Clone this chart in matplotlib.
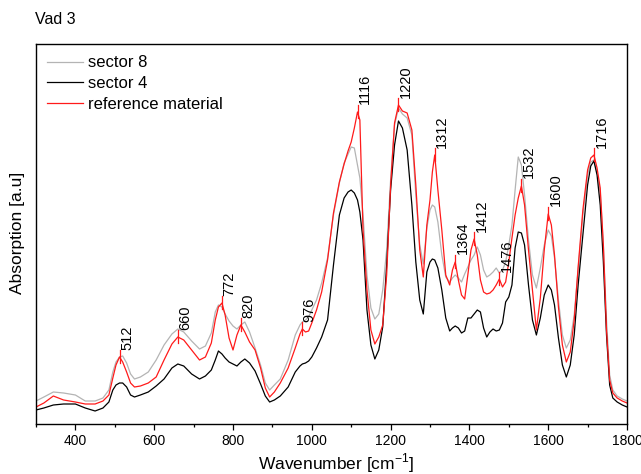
import matplotlib
matplotlib.use("Agg")
import matplotlib.pyplot as plt
from matplotlib.ticker import MultipleLocator, NullLocator

plt.rcParams["font.family"] = ["Liberation Sans", "DejaVu Sans"]

# FTIR spectra, Vad 3 (absorption in arbitrary units)
wavenumber = [
    300, 320, 344, 370, 400, 425, 450, 470, 485, 495, 503, 512, 520, 530, 540, 550,
    565, 585, 605, 625, 645, 660, 675, 695, 715, 730, 745, 755, 763, 772, 780, 790,
    800, 810, 820, 830, 842, 856, 870, 882, 893, 905, 920, 940, 958, 970, 976, 984,
    992, 1000, 1012, 1025, 1040, 1055, 1070, 1082, 1092, 1100, 1108, 1116, 1122, 1130,
    1140, 1150, 1160, 1170, 1180, 1190, 1200, 1210, 1220, 1230, 1242, 1254, 1264, 1274,
    1283, 1292, 1300, 1306, 1312, 1320, 1330, 1340, 1350, 1357, 1364, 1372, 1380, 1388,
    1396, 1404, 1412, 1420, 1428, 1436, 1444, 1452, 1460, 1468, 1476, 1484, 1492, 1500,
    1508, 1516, 1524, 1532, 1540, 1550, 1560, 1570, 1580, 1590, 1600, 1608, 1616, 1626,
    1636, 1646, 1656, 1666, 1676, 1688, 1700, 1708, 1716, 1724, 1732, 1740, 1748, 1756,
    1764, 1775, 1788, 1800,
]

sector_8 = [
    23, 27, 32, 31, 29, 23, 23, 26, 34, 52, 62, 67, 68, 61, 50, 45,
    47, 52, 64, 79, 90, 95, 92, 83, 75, 78, 91, 112, 119, 117, 110, 103,
    98, 95, 99, 102, 92, 76, 59, 41, 34, 39, 45, 64, 89, 99, 102, 104,
    107, 114, 124, 141, 166, 209, 241, 261, 270, 277, 276, 259, 246, 209,
    149, 116, 105, 110, 134, 174, 244, 299, 316, 310, 306, 289, 229, 179,
    160, 196, 214, 219, 217, 202, 169, 147, 142, 146, 149, 146, 142, 150,
    157, 164, 169, 177, 169, 154, 147, 149, 152, 156, 151, 154, 162, 179,
    199, 234, 267, 259, 229, 184, 149, 136, 156, 179, 194, 188, 166, 124,
    89, 76, 84, 109, 154, 209, 249, 262, 264, 252, 232, 179, 104, 49,
    34, 28, 25, 23,
]

sector_4 = [
    14, 16, 19, 20, 20, 16, 13, 16, 22, 34, 39, 41, 41, 37, 29, 27,
    29, 32, 38, 45, 56, 60, 58, 50, 45, 48, 54, 64, 73, 70, 66, 62,
    60, 58, 62, 65, 61, 53, 40, 28, 22, 24, 28, 37, 52, 58, 60, 61,
    63, 67, 76, 87, 104, 159, 209, 226, 232, 234, 231, 224, 212, 184,
    114, 79, 65, 74, 97, 159, 234, 279, 303, 296, 274, 219, 162, 124,
    110, 152, 162, 165, 164, 156, 134, 106, 93, 96, 98, 96, 91, 93,
    106, 106, 110, 114, 112, 96, 87, 92, 95, 93, 94, 101, 122, 127,
    139, 176, 192, 191, 179, 139, 104, 89, 106, 129, 139, 134, 119, 86,
    59, 47, 59, 89, 139, 189, 239, 258, 263, 249, 219, 162, 89, 39,
    26, 22, 19, 17,
]

reference = [
    17, 21, 28, 24, 22, 20, 20, 23, 29, 46, 59, 67, 62, 52, 41, 37,
    38, 41, 47, 64, 80, 87, 84, 74, 64, 67, 81, 104, 117, 121, 109, 86,
    74, 89, 99, 92, 82, 74, 56, 36, 27, 32, 41, 56, 76, 90, 95, 92,
    93, 101, 114, 132, 164, 211, 242, 260, 273, 282, 296, 312, 304, 194,
    134, 94, 80, 87, 99, 149, 238, 301, 319, 313, 311, 294, 239, 174,
    147, 199, 224, 252, 269, 234, 194, 149, 139, 154, 162, 144, 129, 125,
    149, 174, 185, 169, 144, 132, 130, 131, 134, 139, 145, 137, 142, 162,
    186, 209, 226, 238, 219, 174, 134, 94, 126, 174, 210, 199, 169, 117,
    79, 62, 72, 104, 157, 214, 254, 266, 269, 256, 236, 179, 94, 44,
    31, 26, 23, 21,
]

peak_labels = [512, 660, 772, 820, 976, 1116, 1220, 1312, 1364, 1412, 1476, 1532, 1600, 1716]

fig = plt.figure(figsize=(6.41, 4.74), dpi=100)
ax = fig.add_axes([36 / 641, 50 / 474, 591 / 641, 380 / 474])

ax.plot(wavenumber, sector_8, color="#b4b4b4", lw=0.9, label="sector 8")
ax.plot(wavenumber, sector_4, color="black", lw=0.9, label="sector 4")
ax.plot(wavenumber, reference, color="#ff1a1a", lw=0.9, label="reference material")

# peak markers and labels on the reference spectrum
for wn in peak_labels:
    y = reference[wavenumber.index(wn)]
    ax.plot([wn, wn], [y - 6, y + 7], color="#ff1a1a", lw=0.9)
    ax.annotate(str(wn), xy=(wn, y + 7), xytext=(0.5, 0.5), textcoords="offset pixels",
                rotation=90, ha="left", va="bottom", fontsize=10.5)

ax.set_xlim(300, 1800)
ax.set_ylim(0, 380)
ax.xaxis.set_major_locator(MultipleLocator(200))
ax.xaxis.set_minor_locator(MultipleLocator(100))
ax.yaxis.set_major_locator(NullLocator())
ax.tick_params(axis="x", which="major", direction="out", length=4.5, width=0.9, labelsize=10, pad=3)
ax.tick_params(axis="x", which="minor", direction="out", length=2.5, width=0.9)
for s in ax.spines.values():
    s.set_linewidth(1.0)

ax.legend(loc="upper left", frameon=False, fontsize=12, handlelength=2.16,
          handletextpad=0.3, labelspacing=0.35, borderaxespad=0.28, bbox_to_anchor=(0.0, 1.0))

fig.text(35 / 641, 1 - 19 / 474, "Vad 3", ha="left", va="center", fontsize=11.5)
fig.text(18 / 641, 1 - 233 / 474, "Absorption [a.u]", rotation=90, ha="center", va="center", fontsize=12.5)
fig.text(336 / 641, 1 - 463 / 474, r"Wavenumber [cm$^\mathregular{-1}$]", ha="center", va="center", fontsize=12.5)

fig.savefig("out.png", dpi=100)
